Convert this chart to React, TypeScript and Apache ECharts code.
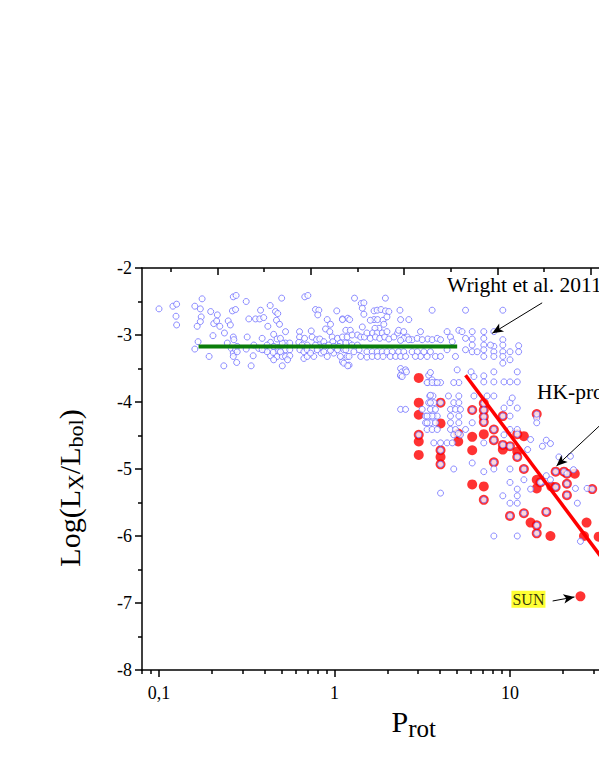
import React, { useEffect, useRef } from "react";
import * as echarts from "echarts";

// ---- axes ----
const xMin = 0.08;
const xMax = 100;
const yMin = -8;
const yMax = -2;
const xMajorTicks = [0.1, 1, 10, 100];
const xLabelValues = [0.1, 1, 10];
const xTickLabels = ["0,1", "1", "10"];
const xMinorTicks = [0.08, 0.09, 0.2, 0.3, 0.4, 0.5, 0.6, 0.7, 0.8, 0.9, 2, 3, 4, 5, 6, 7, 8, 9, 20, 30, 40, 50, 60, 70, 80, 90];
const topMin = -16.2;
const topMax = 100.3;
const topMajorTicks = [0, 20, 40, 60, 80, 100];
const topMinorTicks = [-10, 10, 30, 50, 70, 90];

// ---- data: [P_rot, log(Lx/Lbol)] ----
const blueOpen: number[][] = [
  [0.10,-2.61],[0.12,-2.57],[0.126,-2.54],[0.125,-2.72],[0.126,-2.85],[0.16,-2.57],[0.176,-2.46],[0.172,-2.61],[0.174,-2.73],[0.172,-2.80],
  [0.165,-2.87],[0.167,-3.10],[0.16,-3.21],[0.193,-3.32],[0.197,-2.65],[0.205,-2.83],[0.213,-2.79],[0.215,-2.70],[0.222,-2.87],[0.203,-3.01],
  [0.236,-2.97],[0.234,-3.46],[0.248,-2.79],[0.255,-2.85],[0.262,-2.64],[0.265,-2.43],[0.275,-2.41],[0.273,-2.62],[0.245,-3.12],[0.265,-3.03],
  [0.267,-3.07],[0.258,-3.20],[0.265,-3.27],[0.273,-3.22],[0.265,-3.32],[0.277,-3.41],[0.279,-3.17],[0.279,-3.25],[0.314,-2.50],[0.325,-2.76],
  [0.318,-3.03],[0.314,-3.21],[0.335,-3.46],[0.344,-3.31],[0.355,-2.76],[0.375,-2.76],[0.379,-2.63],[0.395,-2.74],[0.417,-2.87],[0.43,-2.56],
  [0.461,-2.65],[0.467,-2.78],[0.45,-2.99],[0.387,-3.05],[0.37,-3.20],[0.40,-3.22],[0.432,-3.31],[0.432,-3.11],[0.471,-3.06],[0.477,-3.19],
  [0.477,-3.25],[0.471,-3.32],[0.504,-3.32],[0.504,-3.46],[0.526,-3.32],[0.526,-3.22],[0.526,-3.12],[0.504,-3.12],[0.556,-3.12],[0.556,-3.22],
  [0.556,-3.31],[0.526,-2.95],[0.492,-3.05],[0.486,-2.84],[0.50,-2.45],[0.475,-2.68],[0.447,-3.26],[0.413,-3.25],[0.632,-2.95],[0.632,-3.03],
  [0.626,-3.11],[0.635,-3.22],[0.669,-3.35],[0.669,-3.25],[0.677,-2.43],[0.705,-2.41],[0.675,-3.05],[0.699,-3.15],[0.699,-3.22],[0.699,-3.32],
  [0.737,-2.94],[0.746,-3.03],[0.746,-3.22],[0.762,-3.32],[0.779,-2.62],[0.814,-2.63],[0.803,-2.70],[0.79,-3.07],[0.779,-3.15],[0.824,-3.06],
  [0.832,-3.18],[0.84,-3.27],[0.869,-3.10],[0.877,-3.17],[0.869,-3.25],[0.889,-2.91],[0.909,-2.77],[0.949,-2.84],[0.94,-2.95],[0.97,-3.03],
  [0.978,-3.10],[0.99,-3.27],[0.949,-3.23],[1.03,-2.64],[1.04,-3.05],[1.08,-3.12],[1.06,-3.17],[1.13,-3.22],[1.11,-2.76],[1.19,-2.75],
  [1.16,-2.93],[1.11,-3.40],[1.21,-3.45],[0.347,-3.15],[0.387,-3.22],[0.413,-3.15],[0.45,-3.17],[0.492,-3.25],[0.54,-3.37],[0.45,-3.37],
  [0.654,-3.15],[0.73,-3.27],[0.797,-3.22],[0.928,-3.15],[0.99,-3.17],[1.04,-3.22],[0.909,-3.32],[1.08,-3.32],[1.18,-3.32],[1.21,-3.12],
  [1.30,-2.45],[1.42,-2.53],[1.47,-2.52],[1.44,-2.60],[1.47,-2.69],[1.11,-2.77],[1.22,-2.77],[1.23,-2.93],[1.16,-3.22],[1.21,-3.32],
  [1.13,-3.42],[1.19,-3.46],[1.44,-2.88],[1.35,-3.0],[1.41,-3.03],[1.48,-3.03],[1.53,-2.97],[1.68,-2.64],[1.75,-2.63],[1.84,-2.62],
  [1.95,-2.64],[2.04,-2.65],[1.95,-2.45],[1.68,-2.77],[1.76,-2.77],[1.60,-2.78],[1.89,-2.78],[1.99,-2.73],[1.91,-2.84],[1.79,-2.90],
  [1.70,-2.90],[1.65,-2.97],[1.75,-2.97],[1.87,-2.97],[1.99,-2.95],[1.60,-3.05],[1.71,-3.03],[1.81,-3.05],[1.93,-3.03],[2.04,-3.06],
  [2.18,-3.03],[2.29,-2.97],[2.36,-2.63],[2.38,-2.77],[2.65,-2.77],[2.32,-2.93],[2.48,-2.95],[2.60,-3.03],[2.48,-3.05],[2.38,-3.08],
  [2.77,-3.07],[1.53,-3.25],[1.64,-3.25],[1.75,-3.25],[1.87,-3.25],[1.99,-3.25],[2.13,-3.25],[2.32,-3.25],[2.48,-3.25],[1.53,-3.33],
  [1.64,-3.32],[1.76,-3.32],[1.89,-3.32],[2.08,-3.32],[2.23,-3.32],[2.38,-3.32],[2.54,-3.32],[2.77,-3.25],[2.38,-3.50],[2.43,-3.55],
  [2.38,-3.61],[2.54,-3.52],[3.40,-3.06],[3.60,-3.07],[3.85,-3.05],[4.02,-3.07],[3.52,-3.25],[3.76,-3.32],[4.02,-3.32],[3.37,-3.32],
  [3.23,-3.25],[3.60,-2.63],[3.09,-2.95],[4.38,-2.95],[4.58,-3.03],[4.69,-3.10],[4.38,-3.22],[4.89,-3.32],[5.11,-2.93],[5.58,-2.63],
  [5.33,-2.95],[6.09,-2.95],[5.58,-3.05],[6.09,-3.06],[6.09,-3.15],[5.58,-3.22],[6.09,-3.25],[6.50,-3.25],[7.09,-2.95],[7.09,-3.05],
  [7.09,-3.15],[7.09,-3.22],[7.09,-3.32],[8.09,-2.95],[8.09,-3.17],[8.09,-3.25],[8.09,-3.32],[9.1,-2.63],[9.1,-3.07],[9.1,-3.15],
  [9.1,-3.25],[9.1,-3.32],[9.1,-3.42],[10,-3.25],[11.2,-3.16],[11.2,-3.25],[10,-3.37],[7.74,-3.15],[2.65,-3.07],[2.96,-3.05],
  [3.16,-3.07],[2.96,-3.25],[3.09,-3.32],[2.89,-3.32],[1.11,-3.03],[1.18,-3.03],[1.26,-3.0],[1.16,-3.12],[1.26,-3.15],[1.35,-3.15],
  [1.38,-3.22],[1.29,-3.25],[1.41,-3.32],
  [3.44,-3.60],[3.60,-3.67],[3.40,-3.71],[3.76,-3.71],[4.02,-3.71],[5.0,-3.52],[6.0,-3.55],[6.23,-3.62],[5.11,-3.71],[4.78,-3.71],
  [7.09,-3.61],[7.09,-3.70],[8.09,-3.55],[8.09,-3.70],[9.24,-3.70],[10,-3.70],[11.0,-3.55],[11.0,-3.70],
  [3.49,-3.91],[3.64,-3.91],[4.46,-3.91],[5.11,-3.91],[3.44,-4.01],[3.68,-4.01],[4.78,-4.01],[5.11,-4.01],[6.23,-3.91],[7.4,-3.91],
  [8.09,-3.91],[2.38,-4.11],[2.54,-4.11],[3.52,-4.11],[3.76,-4.11],[4.58,-4.11],[4.89,-4.11],[5.22,-4.11],[10,-4.01],[10.3,-3.94],
  [9.24,-4.09],[11,-4.09],[3.30,-4.21],[3.49,-4.21],[3.68,-4.21],[3.85,-4.21],[4.58,-4.21],[5.11,-4.21],[6.09,-4.31],[10,-4.21],
  [3.30,-4.31],[3.52,-4.31],[3.76,-4.31],[4.58,-4.31],[5.11,-4.31],[3.37,-4.41],[3.60,-4.41],[3.85,-4.41],[4.58,-4.41],[4.89,-4.41],
  [5.58,-4.41],[5.22,-4.49],[4.78,-4.49],[3.68,-4.61],[4.02,-4.61],[4.38,-4.61],[4.69,-4.61],[7.09,-4.61],[9.24,-4.49],[13.1,-4.56],
  [15.3,-4.66],[16.1,-4.57],[17.0,-4.62],[12.6,-4.71],[10,-4.41],[11,-4.41],[14.2,-4.24],[14.2,-4.31],[19,-4.82],[22.1,-4.81],
  [6.09,-4.91],[7.09,-5.04],[8.09,-5.0],[10,-5.0],[12.0,-5.16],[10,-5.20],[13.1,-5.30],[11,-5.30],[11,-5.40],[9.1,-5.40],
  [11,-5.51],[10,-5.51],[4.02,-5.36],[4.78,-5.0],[8.09,-6.0],[11,-6.0],[24.2,-5.51],[25.2,-6.08],[27.5,-5.29],[23.6,-5.29],
  [23,-5.01],[15.3,-5.19],[16.1,-5.10],[17,-5.16],
  [2.57,-3.55],[2.38,-3.60],[2.43,-3.62],[3.52,-3.56],[3.37,-3.71],[3.60,-3.71],[3.85,-3.71],[3.52,-3.90],[3.16,-4.11],[3.52,-4.01],
  [3.60,-4.21],[3.37,-4.21],[3.37,-4.31],
  // circles drawn on top of red points (ring markers)
  [3.02,-4.49],[4.02,-4.01],[4.02,-4.72],[4.02,-4.93],[5.07,-4.47],[6.09,-4.12],[7.09,-4.02],[7.09,-4.12],[7.09,-4.22],[7.09,-4.30],
  [7.09,-5.46],[8.09,-4.41],[8.09,-4.57],[9.1,-4.21],[9.1,-4.64],[8.09,-4.90],[10,-4.66],[11.0,-4.48],[11.0,-4.82],[12.0,-5.0],
  [10,-5.70],[12,-5.66],[14.2,-5.84],[14.2,-5.96],[14.9,-5.20],[14.2,-4.18],[16.1,-5.64],[18.2,-5.27],[18.2,-5.04],[20.3,-5.04],
  [21.1,-5.07],[21.1,-5.22],[21.1,-5.39],[29.4,-5.30]
];

const redFilled: number[][] = [
  [3.02,-3.64],[3.02,-4.01],[3.02,-4.19],[3.02,-4.49],[3.02,-4.59],[3.02,-4.79],[4.02,-4.01],[4.02,-4.32],[4.02,-4.72],[4.02,-4.82],
  [4.02,-4.93],[5.07,-4.47],[5.07,-4.59],[6.09,-4.12],[6.09,-4.52],[6.09,-4.72],[6.09,-5.23],[7.09,-4.02],[7.09,-4.12],[7.09,-4.22],
  [7.09,-4.30],[7.09,-4.48],[7.09,-5.26],[7.09,-5.46],[8.09,-4.41],[8.09,-4.57],[9.1,-4.21],[9.1,-4.64],[9.1,-4.71],[8.09,-4.90],
  [10,-4.66],[11.0,-4.48],[12.0,-4.51],[11.0,-4.74],[11.0,-4.82],[12.0,-5.0],[10,-5.70],[12,-5.66],[13.1,-5.80],[14.2,-5.84],
  [14.2,-5.96],[17.0,-6.0],[14.2,-5.16],[14.9,-5.20],[14.2,-5.29],[14.2,-4.18],[16.1,-5.64],[17.2,-5.26],[18.2,-5.27],[18.2,-5.04],
  [20.3,-5.04],[21.1,-5.07],[23.4,-5.07],[21.1,-5.22],[21.1,-5.39],[27.3,-5.80],[26.4,-6.0],[29.4,-5.30],[32,-6.01]
];

const sunPoint: number[][] = [[25.2, -6.90]];

const wrightLine: number[][] = [[0.168, -3.17], [5.0, -3.17]];
const hkLine: number[][] = [[5.58, -3.60], [60, -7.22]];

const wrightArrow: number[][] = [[15.25, -2.52], [7.92, -2.975]];
const hkArrow: number[][] = [[40, -4.13], [18.4, -4.955]];
const sunArrow: number[][] = [[17.5, -6.97], [23.3, -6.91]];

const serif = "'Liberation Serif', 'Times New Roman', serif";

export default function App() {
  const ref = useRef<HTMLDivElement>(null);

  useEffect(() => {
    if (!ref.current) return;
    const chart = echarts.init(ref.current, undefined, { renderer: "svg" });
    const black = "#000";
    const axisLine = { show: true, onZero: false, lineStyle: { color: black, width: 1.5 } };
    const arrowPair = (a: number[][]) => [{ coord: a[0] }, { coord: a[1] }];

    chart.setOption({
      animation: false,
      backgroundColor: "#fff",
      grid: { left: 142, top: 268, width: 543.5, height: 402, containLabel: false },
      xAxis: [
        {
          type: "log", logBase: 10, min: xMin, max: xMax, position: "bottom",
          axisLine,
          axisTick: { show: true, inside: false, length: 7, customValues: xMajorTicks, lineStyle: { color: black, width: 1.5 } },
          minorTick: { show: false },
          axisLabel: {
            show: true, customValues: xLabelValues, margin: 14,
            formatter: (v: number) => {
              const i = xLabelValues.findIndex((t) => Math.abs(Math.log10(t) - Math.log10(v)) < 1e-6);
              return i >= 0 ? xTickLabels[i] : "";
            },
            color: black, fontSize: 18, fontFamily: serif,
          },
          splitLine: { show: false },
          name: "{a|P}{b|rot}",
          nameLocation: "middle",
          nameGap: 15,
          nameTextStyle: {
            rich: {
              a: { fontSize: 30, fontFamily: serif, color: black },
              b: { fontSize: 25, fontFamily: serif, color: black, padding: [14, 0, 0, 0] },
            },
          },
        },
        {
          type: "log", logBase: 10, min: xMin, max: xMax, position: "bottom",
          axisLine: { show: false },
          axisTick: { show: true, inside: false, length: 4, customValues: xMinorTicks, lineStyle: { color: black, width: 1.5 } },
          axisLabel: { show: false },
          splitLine: { show: false },
        },
        {
          type: "value", min: topMin, max: topMax, position: "top",
          axisLine,
          axisTick: { show: true, inside: true, length: 7, customValues: topMajorTicks, lineStyle: { color: black, width: 1.5 } },
          axisLabel: { show: false },
          splitLine: { show: false },
        },
        {
          type: "value", min: topMin, max: topMax, position: "top",
          axisLine: { show: false },
          axisTick: { show: true, inside: true, length: 4, customValues: topMinorTicks, lineStyle: { color: black, width: 1.5 } },
          axisLabel: { show: false },
          splitLine: { show: false },
        },
      ],
      yAxis: {
        type: "value", min: yMin, max: yMax, interval: 1,
        axisLine,
        axisTick: { show: true, inside: false, length: 7, lineStyle: { color: black, width: 1.5 } },
        minorTick: { show: true, splitNumber: 2, length: 4, lineStyle: { color: black, width: 1.5 } },
        axisLabel: { color: black, fontSize: 18, fontFamily: serif, margin: 10 },
        splitLine: { show: false },
        minorSplitLine: { show: false },
      },
      graphic: [
        {
          type: "text", x: 69, y: 488, rotation: Math.PI / 2,
          style: {
            text: "{a|Log(L}{b|X}{a|/L}{b|bol}{a|)}",
            align: "center", verticalAlign: "middle",
            rich: {
              a: { fontSize: 30, fontFamily: serif, fill: black },
              b: { fontSize: 22, fontFamily: serif, fill: black, padding: [12, 0, 0, 0] },
            },
          },
        },
        {
          type: "text", x: 447, y: 285,
          style: { text: "Wright et al. 2011", font: `21.5px ${serif}`, fill: black, verticalAlign: "middle" },
        },
        {
          type: "text", x: 537, y: 392,
          style: { text: "HK-project", font: `21.5px ${serif}`, fill: black, verticalAlign: "middle" },
        },
      ],
      series: [
        {
          type: "scatter", name: "HK-project", xAxisIndex: 0, yAxisIndex: 0,
          data: redFilled, symbol: "circle", symbolSize: 10,
          itemStyle: { color: "#ff0000" }, z: 2,
        },
        {
          type: "scatter", name: "Sun", xAxisIndex: 0, yAxisIndex: 0,
          data: sunPoint, symbol: "circle", symbolSize: 10,
          itemStyle: { color: "#ff0000" }, z: 2,
          label: {
            show: true, formatter: "SUN", position: "left", distance: 30, offset: [0, 3],
            backgroundColor: "#ffff00", color: black, fontSize: 16, fontFamily: serif, padding: [1, 1, 0, 1],
          },
        },
        {
          type: "scatter", name: "Wright et al. 2011", xAxisIndex: 0, yAxisIndex: 0,
          data: blueOpen, symbol: "circle", symbolSize: 6,
          itemStyle: { color: "#ffffff", borderColor: "#7070ff", borderWidth: 1 }, z: 3,
        },
        {
          type: "line", name: "fit Wright", xAxisIndex: 0, yAxisIndex: 0,
          data: wrightLine, showSymbol: false, symbol: "none",
          lineStyle: { color: "#0a7d0a", width: 4 }, z: 4,
        },
        {
          type: "line", name: "fit HK", xAxisIndex: 0, yAxisIndex: 0,
          data: hkLine, showSymbol: false, symbol: "none",
          lineStyle: { color: "#ff0000", width: 3.5 }, z: 4,
        },
        {
          type: "line", name: "arrows", xAxisIndex: 0, yAxisIndex: 0, data: [], z: 5,
          markLine: {
            silent: true, animation: false,
            symbol: ["none", "arrow"], symbolSize: [7, 11],
            lineStyle: { color: black, width: 1, type: "solid" },
            label: { show: false },
            data: [arrowPair(wrightArrow), arrowPair(hkArrow), arrowPair(sunArrow)],
          },
        },
      ],
    });
    return () => chart.dispose();
  }, []);

  return (
    <div style={{ position: "absolute", left: 0, top: 0, width: 599, height: 776, overflow: "hidden", background: "#fff" }}>
      <div ref={ref} style={{ width: 760, height: 776 }} />
    </div>
  );
}
